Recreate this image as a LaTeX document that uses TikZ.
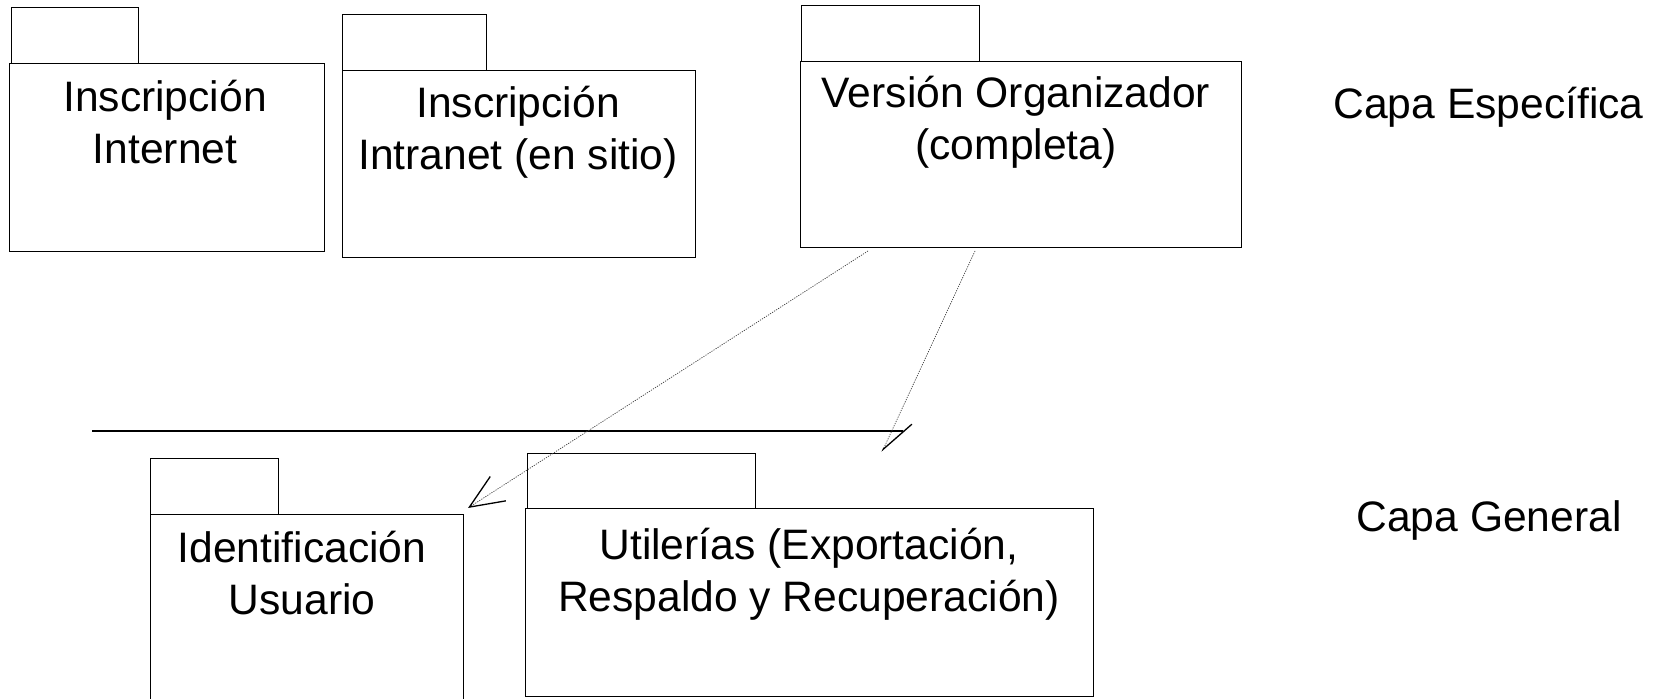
\documentclass[tikz,border=0pt]{standalone}
\usepackage{fontspec}
\setmainfont{Liberation Sans}
\usetikzlibrary{arrows.meta,fit}
\newcommand\umlpkg[8]{% name, tabx1, taby1, tabx2, x1, y1, x2, y2
  \draw[pkgline] (#2,#6) rectangle (#4,#3);
  \node[pkgline, draw, fit={(#5,#6)(#7,#8)}, inner sep=0pt] (#1) {};
}
\tikzset{
  pkgline/.style={line width=0.5pt, draw=black},
  pkgtext/.style={anchor=base, align=center, inner sep=0pt,
    font=\fontsize{21.3pt}{26pt}\selectfont},
  layertext/.style={anchor=base west, inner sep=0pt,
    font=\fontsize{21.3pt}{26pt}\selectfont},
  layerline/.style={line width=0.9pt, draw=black},
  dep/.style={line width=0.35pt, draw=black!75, dash pattern=on 0.6pt off 0.6pt},
  deptip/.style={-{Straight Barb[angle=46:18.5pt, line width=0.65pt, black]}},
  deptiphalf/.style={-{Straight Barb[harpoon, angle=48:19pt, line width=0.65pt, black]}},
}
\begin{document}
\begin{tikzpicture}[x=0.5pt, y=-0.5pt]
\useasboundingbox (0,0) rectangle (1656,699);
\clip (0,0) rectangle (1656,699);
% packages
\umlpkg{p1}{11}{8}{138}{9}{64}{324}{252}
\umlpkg{p2}{342}{15}{486}{342}{71}{695}{258}
\umlpkg{p3}{801}{6}{979}{800}{62}{1241}{248}
\umlpkg{p4}{150}{459}{278}{150}{515}{463}{720}
\umlpkg{p5}{527}{454}{755}{525}{509}{1093}{697}
% package names (anchored at the baseline of the last line)
\node[pkgtext] (t1) at (165,164) {Inscripción\\Internet};
\node[pkgtext] (t2) at (518,170) {Inscripción\\Intranet (en sitio)};
\node[pkgtext] (t3) at (1016,160) {Versión Organizador\\(completa)};
\node[pkgtext] (t4) at (302,615) {Identificación\\Usuario};
\node[pkgtext] (t5) at (809,612) {Utilerías (Exportación,\\Respaldo y Recuperación)};
% layer labels
\node[layertext] (l1) at (1333,119) {Capa Específica};
\node[layertext] (l2) at (1356,532) {Capa General};
% layer separator
\coordinate (sepL) at (92,431);
\coordinate (sepR) at (903,431);
\draw[layerline] (sepL) -- (sepR);
% dependencies
\coordinate (d1s) at (868,251);
\coordinate (d1e) at (468,508);
\coordinate (d2s) at (975,251);
\coordinate (d2e) at (882,452);
\draw[dep, deptip] (d1s) -- (d1e);
\draw[dep, deptiphalf] (d2s) -- (d2e);
\end{tikzpicture}
\end{document}
